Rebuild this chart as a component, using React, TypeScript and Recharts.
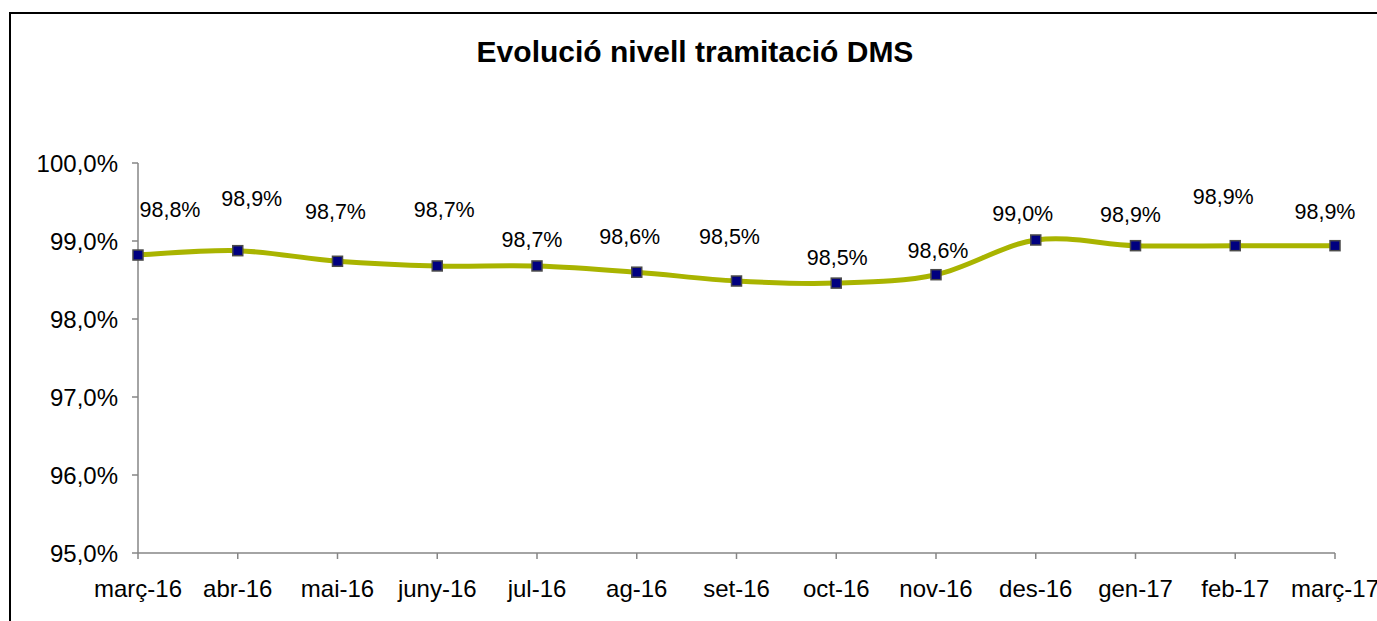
import React from "react";
import { LineChart, Line, XAxis, YAxis, LabelList } from "recharts";

const categories = [
  "març-16", "abr-16", "mai-16", "juny-16", "jul-16", "ag-16", "set-16",
  "oct-16", "nov-16", "des-16", "gen-17", "feb-17", "març-17",
];
const values = [98.82, 98.876, 98.74, 98.68, 98.68, 98.6, 98.487, 98.46, 98.568, 99.013, 98.94, 98.94, 98.94];
const yTicks = [95, 96, 97, 98, 99, 100];
const labelDx = [32, 14, -2, 7, -5, -7, -7, 1, 2, -13, -5, -12, -10];
const labelDy = [-45, -52, -49, -56, -26, -35, -44, -25, -24, -26, -31, -49, -34];

const data = categories.map((c, i) => ({ name: c, value: values[i] }));

const fmt = (v: number) => v.toFixed(1).replace(".", ",") + "%";

const FONT = "Arial, 'Liberation Sans', sans-serif";

// Excel-like smoothed line (Catmull-Rom / cardinal with tension 0)
const excelCurve = (context: any) => {
  let xs: number[] = [];
  let ys: number[] = [];
  return {
    areaStart() {},
    areaEnd() {},
    lineStart() {
      xs = [];
      ys = [];
    },
    point(x: number, y: number) {
      xs.push(+x);
      ys.push(+y);
    },
    lineEnd() {
      const n = xs.length;
      if (!n) return;
      context.moveTo(xs[0], ys[0]);
      for (let i = 0; i < n - 1; i++) {
        const x0 = i > 0 ? xs[i - 1] : xs[i];
        const y0 = i > 0 ? ys[i - 1] : ys[i];
        const x3 = i + 2 < n ? xs[i + 2] : xs[i + 1];
        const y3 = i + 2 < n ? ys[i + 2] : ys[i + 1];
        const c1x = xs[i] + (xs[i + 1] - x0) / 6;
        const c1y = ys[i] + (ys[i + 1] - y0) / 6;
        const c2x = xs[i + 1] - (x3 - xs[i]) / 6;
        const c2y = ys[i + 1] - (y3 - ys[i]) / 6;
        context.bezierCurveTo(c1x, c1y, c2x, c2y, xs[i + 1], ys[i + 1]);
      }
    },
  };
};

const XTick = (props: any) => {
  const { x, y, payload } = props;
  return (
    <text x={x} y={y + 27} textAnchor="middle" dominantBaseline="central" fontSize={24} fontFamily={FONT} fill="#000">
      {payload.value}
    </text>
  );
};

const YTick = (props: any) => {
  const { x, y, payload } = props;
  return (
    <text x={x} y={y} textAnchor="end" dominantBaseline="central" fontSize={24} fontFamily={FONT} fill="#000">
      {fmt(payload.value)}
    </text>
  );
};

const renderLabel = (props: any) => {
  const { x, y, value, index } = props;
  return (
    <text
      key={`lbl-${index}`}
      x={x + labelDx[index]}
      y={y + labelDy[index]}
      textAnchor="middle"
      dominantBaseline="central"
      fontSize={21.5}
      fontFamily={FONT}
      fill="#000"
    >
      {fmt(value)}
    </text>
  );
};

const renderDot = (props: any) => {
  const { cx, cy, index } = props;
  return (
    <rect key={`dot-${index}`} x={cx - 5} y={cy - 5} width={10} height={10} fill="#000080" stroke="#4a4a4a" strokeWidth={1.5} />
  );
};

export default function App() {
  return (
    <div style={{ position: "absolute", left: 0, top: 0, width: 1377, height: 621, overflow: "hidden", background: "#fff" }}>
      <div
        style={{
          position: "absolute",
          left: 9,
          top: 12,
          width: 1420,
          height: 700,
          borderLeft: "2px solid #000",
          borderTop: "2px solid #000",
        }}
      />
      <div
        style={{
          position: "absolute",
          left: 0,
          top: 34,
          width: 1390,
          textAlign: "center",
          fontFamily: FONT,
          fontWeight: "bold",
          fontSize: 30,
          lineHeight: "36px",
          color: "#000",
        }}
      >
        Evolució nivell tramitació DMS
      </div>
      <div style={{ position: "absolute", left: 0, top: 0 }}>
        <LineChart width={1377} height={621} data={data} margin={{ top: 163, right: 42, bottom: 38, left: 0 }}>
          <XAxis
            dataKey="name"
            interval={0}
            axisLine={{ stroke: "#868686", strokeWidth: 1.5 }}
            tickLine={{ stroke: "#868686", strokeWidth: 1.5 }}
            tickSize={6}
            tickMargin={2}
            height={30}
            tick={<XTick />}
          />
          <YAxis
            domain={[95, 100]}
            ticks={yTicks}
            interval={0}
            width={138}
            axisLine={{ stroke: "#868686", strokeWidth: 1.5 }}
            tickLine={{ stroke: "#868686", strokeWidth: 1.5 }}
            tickSize={6}
            tickMargin={14}
            tick={<YTick />}
          />
          <Line
            dataKey="value"
            type={excelCurve as any}
            stroke="#a9b400"
            strokeWidth={5}
            dot={renderDot}
            activeDot={false}
            isAnimationActive={false}
          >
            <LabelList dataKey="value" content={renderLabel} />
          </Line>
        </LineChart>
      </div>
    </div>
  );
}
